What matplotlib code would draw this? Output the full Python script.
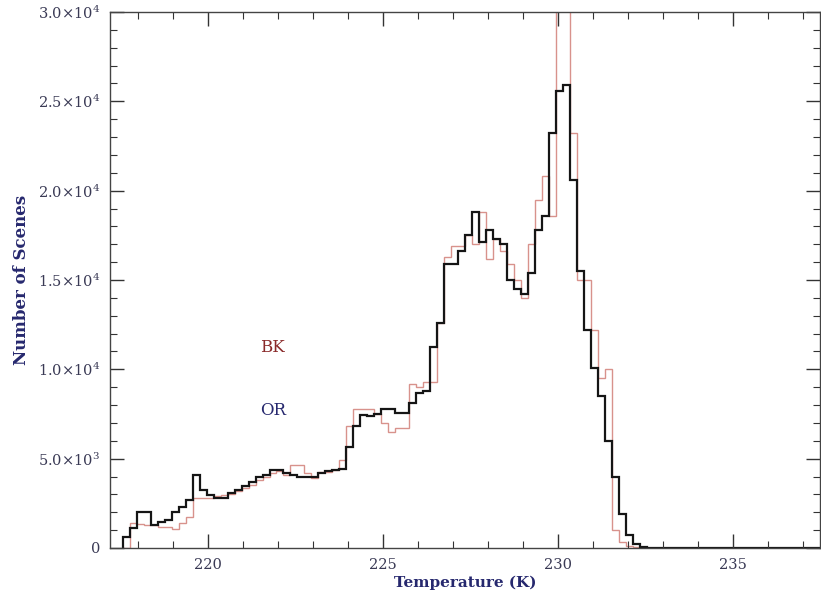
import matplotlib
matplotlib.use("Agg")
import matplotlib.pyplot as plt
import numpy as np
from matplotlib.ticker import MultipleLocator, FixedLocator, FixedFormatter

# histogram bins (K)
t_start = 217.56
bin_width = 0.2
t_end = 237.6

# OR counts per bin (black line)
or_counts = [600, 1100, 2000, 2000, 1300, 1470, 1570, 2000, 2300, 2700,
             4100, 3250, 2950, 2800, 2800, 3050, 3250, 3450, 3700, 3950,
             4100, 4350, 4350, 4200, 4100, 4000, 4000, 4000, 4200, 4300,
             4350, 4400, 5650, 6800, 7450, 7400, 7500, 7800, 7800, 7550,
             7550, 8100, 8650, 8800, 11250, 12600, 15900, 15900, 16600, 17500,
             18800, 17100, 17800, 17300, 17000, 15000, 14500, 14200, 15400, 17800,
             18600, 23200, 25600, 25900, 20600, 15500, 12200, 10100, 8500, 6000,
             4000, 1900, 750, 250, 80]

# BK counts per bin (red line)
bk_counts = [0, 1400, 1350, 1300, 1300, 1200, 1150, 1050, 1400, 1750,
             2800, 2800, 2800, 2900, 2950, 3000, 3200, 3350, 3550, 3800,
             3950, 4200, 4300, 4100, 4650, 4650, 4200, 3900, 4250, 4250,
             4350, 4900, 6800, 7800, 7800, 7800, 7500, 7000, 6500, 6700,
             6700, 9200, 9000, 9300, 9300, 12600, 16300, 16900, 16900, 17500,
             17000, 18800, 16200, 17300, 16600, 15900, 15000, 14000, 17000, 19500,
             20800, 18600, 32500, 34000, 23200, 15000, 15000, 12200, 9500, 10000,
             1000, 350, 120, 40, 0]

y_ticks = [0, 5000, 10000, 15000, 20000, 25000, 30000]
y_tick_labels = ['0', r'5.0$\times$10$^3$', r'1.0$\times$10$^4$', r'1.5$\times$10$^4$',
                 r'2.0$\times$10$^4$', r'2.5$\times$10$^4$', r'3.0$\times$10$^4$']
x_ticks = [220, 225, 230, 235]
x_tick_labels = ['220', '225', '230', '235']

n_bins = int(round((t_end - t_start) / bin_width))
edges = t_start + bin_width * np.arange(n_bins + 1)


def pad(counts):
    out = np.zeros(n_bins)
    out[:len(counts)] = counts
    return out


navy = '#26286e'
serif = ['DejaVu Serif']
plt.rcParams['mathtext.fontset'] = 'dejavuserif'

fig = plt.figure(figsize=(8.21, 5.93), dpi=100)
ax = fig.add_axes([0.134, 0.0759, 0.8648, 0.9039])

ax.stairs(pad(bk_counts), edges, baseline=0, color='#d8928c', lw=1.0)
ax.stairs(pad(or_counts), edges, baseline=0, color='#151515', lw=1.6)

ax.set_xlim(217.2, 237.5)
ax.set_ylim(0, 30000)

ax.xaxis.set_major_locator(FixedLocator(x_ticks))
ax.xaxis.set_major_formatter(FixedFormatter(x_tick_labels))
ax.xaxis.set_minor_locator(MultipleLocator(1))
ax.yaxis.set_major_locator(FixedLocator(y_ticks))
ax.yaxis.set_major_formatter(FixedFormatter(y_tick_labels))
ax.yaxis.set_minor_locator(MultipleLocator(1000))

ax.tick_params(which='both', direction='in', top=True, right=True, color='#333333')
ax.tick_params(which='major', length=10, width=1.0, labelsize=10.5, pad=7, labelcolor='#3a3a55')
ax.tick_params(which='minor', length=5, width=0.8)
for lab in ax.get_xticklabels() + ax.get_yticklabels():
    lab.set_family(serif)

for sp in ax.spines.values():
    sp.set_color('#444444')
    sp.set_linewidth(1.0)

ax.set_xlabel('Temperature (K)', fontsize=11, color=navy, family=serif,
              fontweight='bold', labelpad=3)
ax.set_ylabel('Number of Scenes', fontsize=12, color=navy, family=serif,
              fontweight='bold', labelpad=6)

ax.text(221.85, 11200, 'BK', color='#8a2a2a', fontsize=12, family=serif,
        ha='center', va='center')
ax.text(221.85, 7700, 'OR', color=navy, fontsize=12, family=serif,
        ha='center', va='center')

fig.savefig('out.png', dpi=100)
